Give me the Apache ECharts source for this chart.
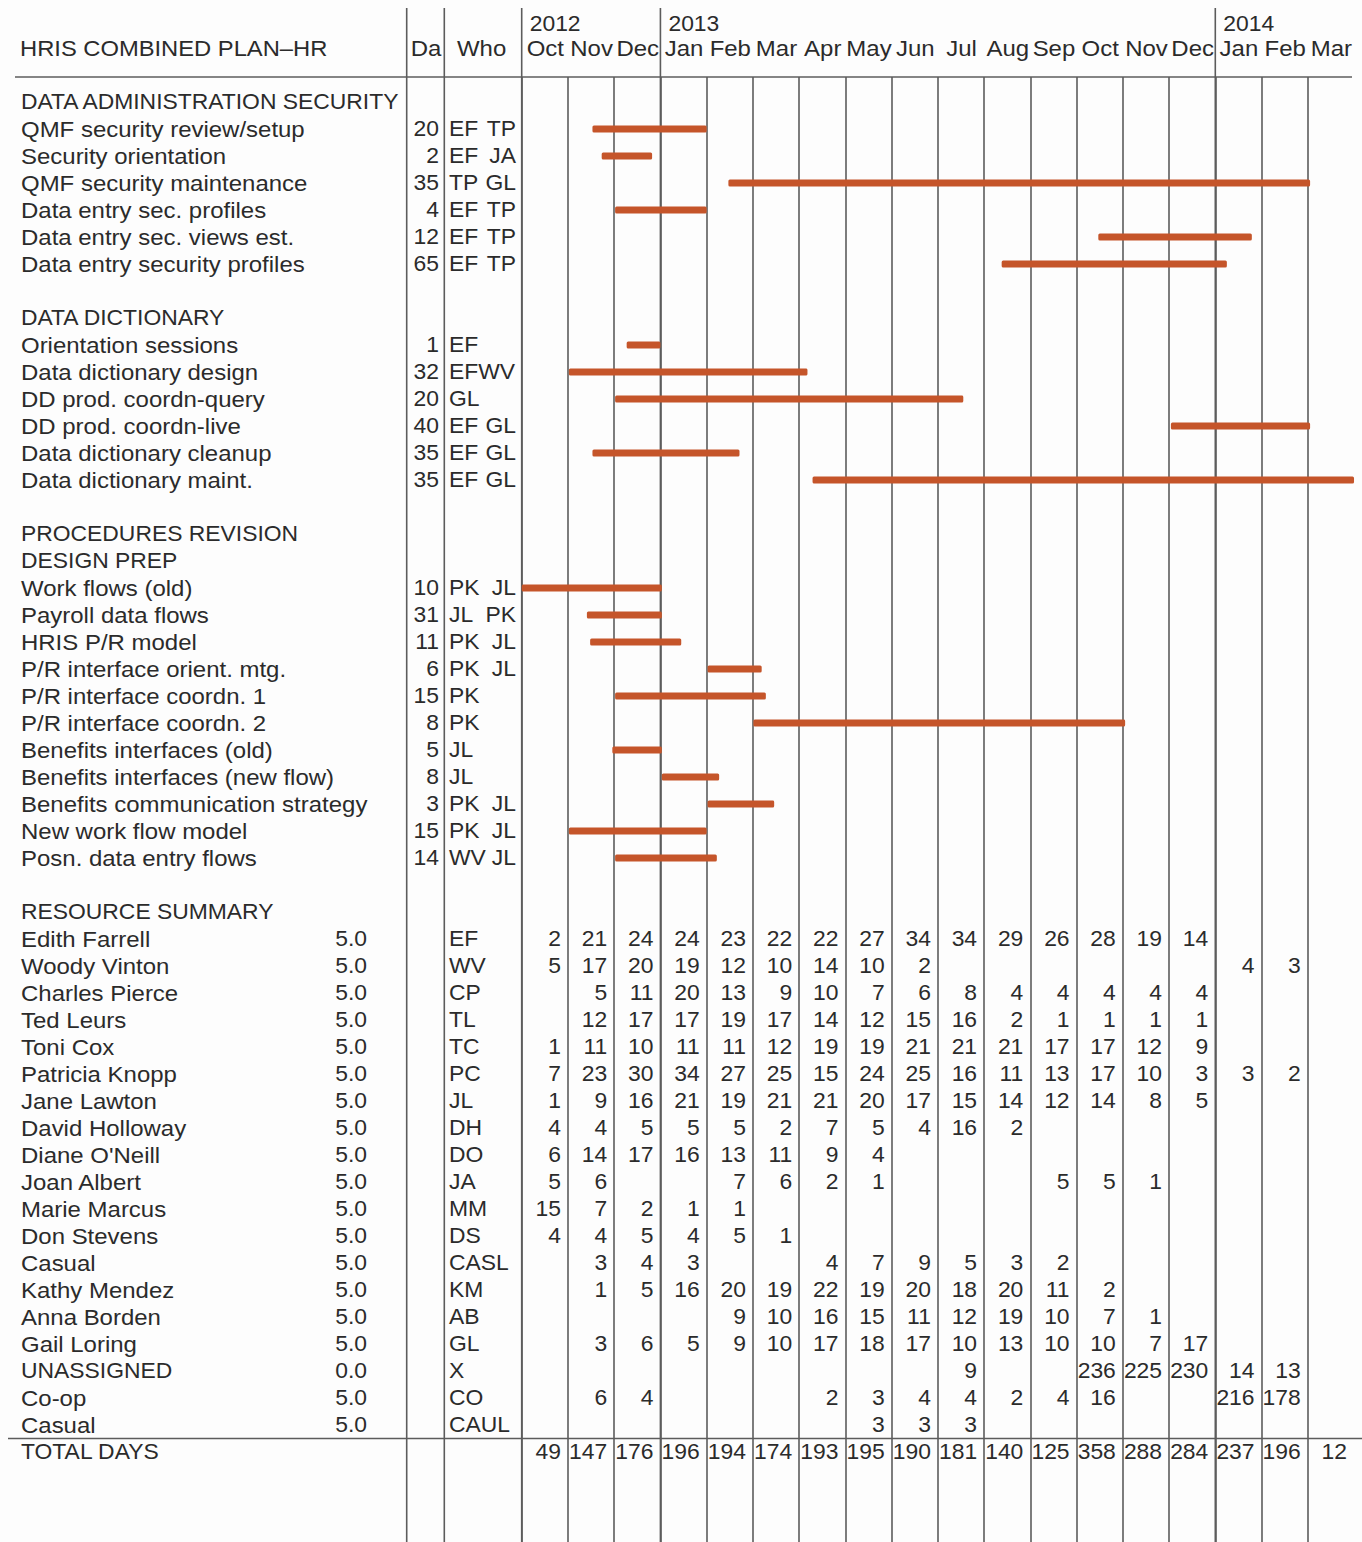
<!DOCTYPE html>
<html>
<head>
<meta charset="utf-8">
<title>HRIS Combined Plan – HR</title>
<script src="https://cdn.jsdelivr.net/npm/echarts@6/dist/echarts.min.js"></script>
<style>
  html, body { margin: 0; padding: 0; background: #fdfdfd; }
  #chart { width: 1362px; height: 1542px; }
</style>
</head>
<body>
<div id="chart"></div>
<script>
// ---- Calendar columns (Oct 2012 .. Mar 2014) ----
const monthLabels = ['Oct','Nov','Dec','Jan','Feb','Mar','Apr','May','Jun','Jul','Aug','Sep','Oct','Nov','Dec','Jan','Feb','Mar'];
const yearLabels = ['2012', '2013', '2014'];
const yearStartCol = [0, 3, 15];

// ---- Plan sections ----
const sectionTitles = [
  ['DATA ADMINISTRATION SECURITY'],
  ['DATA DICTIONARY'],
  ['PROCEDURES REVISION', 'DESIGN PREP']
];
const taskSection = [0,0,0,0,0,0, 1,1,1,1,1,1, 2,2,2,2,2,2,2,2,2,2,2];
const taskNames = [
  'QMF security review/setup', 'Security orientation', 'QMF security maintenance',
  'Data entry sec. profiles', 'Data entry sec. views est.', 'Data entry security profiles',
  'Orientation sessions', 'Data dictionary design', 'DD prod. coordn-query',
  'DD prod. coordn-live', 'Data dictionary cleanup', 'Data dictionary maint.',
  'Work flows (old)', 'Payroll data flows', 'HRIS P/R model', 'P/R interface orient. mtg.',
  'P/R interface coordn. 1', 'P/R interface coordn. 2', 'Benefits interfaces (old)',
  'Benefits interfaces (new flow)', 'Benefits communication strategy', 'New work flow model',
  'Posn. data entry flows'
];
const taskDays = [20, 2, 35, 4, 12, 65, 1, 32, 20, 40, 35, 35, 10, 31, 11, 6, 15, 8, 5, 8, 3, 15, 14];
const taskWho = [
  'EF TP', 'EF JA', 'TP GL', 'EF TP', 'EF TP', 'EF TP',
  'EF', 'EFWV', 'GL', 'EF GL', 'EF GL', 'EF GL',
  'PK JL', 'JL PK', 'PK JL', 'PK JL', 'PK', 'PK', 'JL', 'JL', 'PK JL', 'PK JL', 'WV JL'
];
// start / end in months counted from 1 Oct 2012
const taskStart = [1.53, 1.73, 4.47, 2.02, 12.47, 10.38, 2.27, 1.02, 2.02, 14.04, 1.53, 6.29,
                   0.00, 1.41, 1.48, 4.02, 2.02, 5.01, 1.96, 3.03, 4.02, 1.02, 2.02];
const taskEnd   = [4.00, 2.82, 17.05, 4.00, 15.79, 15.25, 3.00, 6.18, 9.55, 17.05, 4.71, 18.00,
                   3.03, 3.03, 3.45, 5.19, 5.28, 13.05, 3.03, 4.27, 5.46, 4.00, 4.22];

// ---- Resource summary ----
const resourceTitle = 'RESOURCE SUMMARY';
const resNames = ['Edith Farrell','Woody Vinton','Charles Pierce','Ted Leurs','Toni Cox','Patricia Knopp',
  'Jane Lawton','David Holloway',"Diane O'Neill",'Joan Albert','Marie Marcus','Don Stevens','Casual',
  'Kathy Mendez','Anna Borden','Gail Loring','UNASSIGNED','Co-op','Casual'];
const resRate = [5,5,5,5,5,5,5,5,5,5,5,5,5,5,5,5,0,5,5];
const resCode = ['EF','WV','CP','TL','TC','PC','JL','DH','DO','JA','MM','DS','CASL','KM','AB','GL','X','CO','CAUL'];
const _ = null;
const resDays = [
  [2,21,24,24,23,22,22,27,34,34,29,26,28,19,14,_,_,_],
  [5,17,20,19,12,10,14,10,2,_,_,_,_,_,_,4,3,_],
  [_,5,11,20,13,9,10,7,6,8,4,4,4,4,4,_,_,_],
  [_,12,17,17,19,17,14,12,15,16,2,1,1,1,1,_,_,_],
  [1,11,10,11,11,12,19,19,21,21,21,17,17,12,9,_,_,_],
  [7,23,30,34,27,25,15,24,25,16,11,13,17,10,3,3,2,_],
  [1,9,16,21,19,21,21,20,17,15,14,12,14,8,5,_,_,_],
  [4,4,5,5,5,2,7,5,4,16,2,_,_,_,_,_,_,_],
  [6,14,17,16,13,11,9,4,_,_,_,_,_,_,_,_,_,_],
  [5,6,_,_,7,6,2,1,_,_,_,5,5,1,_,_,_,_],
  [15,7,2,1,1,_,_,_,_,_,_,_,_,_,_,_,_,_],
  [4,4,5,4,5,1,_,_,_,_,_,_,_,_,_,_,_,_],
  [_,3,4,3,_,_,4,7,9,5,3,2,_,_,_,_,_,_],
  [_,1,5,16,20,19,22,19,20,18,20,11,2,_,_,_,_,_],
  [_,_,_,_,9,10,16,15,11,12,19,10,7,1,_,_,_,_],
  [_,3,6,5,9,10,17,18,17,10,13,10,10,7,17,_,_,_],
  [_,_,_,_,_,_,_,_,_,9,_,_,236,225,230,14,13,_],
  [_,6,4,_,_,_,2,3,4,4,2,4,16,_,_,216,178,_],
  [_,_,_,_,_,_,_,3,3,3,_,_,_,_,_,_,_,_]
];
const totalLabel = 'TOTAL DAYS';
const totalDays = [49,147,176,196,194,174,193,195,190,181,140,125,358,288,284,237,196,12];

const headTitle = 'HRIS COMBINED PLAN–HR';
const headDays = 'Da';
const headWho = 'Who';

// ---- Styling / layout ----
const TEXT = '#2b2b2b';
const RULE = '#5c5c5c';
const BAR = '#c5552a';
const FONT = '"Liberation Sans", Arial, Helvetica, sans-serif';
const FONT_SIZE = 22;
const X_NAME = 21, X_RATE = 367, X_DA_LINE = 406.7, X_DA = 439, X_WHO_LINE = 444.3,
      X_WHO = 449, X_WHO2 = 516, CELL_PAD = 7;

// ---- Row layout ----
const textItems = [];   // {month, row, text, col}
const barItems = [];    // [start, end, row]
let row = 0;
sectionTitles.forEach((titles, s) => {
  titles.forEach(t => textItems.push({ month: 0, row: row++, text: t, col: 'name' }));
  taskNames.forEach((name, i) => {
    if (taskSection[i] !== s) return;
    textItems.push({ month: 0, row, text: name, col: 'name' });
    textItems.push({ month: 0, row, text: String(taskDays[i]), col: 'da' });
    const who = taskWho[i].split(/\s+/);
    textItems.push({ month: 0, row, text: who[0], col: 'who' });
    if (who.length > 1) textItems.push({ month: 0, row, text: who[1], col: 'who2' });
    barItems.push([taskStart[i], taskEnd[i], row]);
    row++;
  });
  row++;
});
textItems.push({ month: 0, row: row++, text: resourceTitle, col: 'name' });
resNames.forEach((name, i) => {
  textItems.push({ month: 0, row, text: name, col: 'name' });
  textItems.push({ month: 0, row, text: resRate[i].toFixed(1), col: 'rate' });
  textItems.push({ month: 0, row, text: resCode[i], col: 'who' });
  resDays[i].forEach((v, m) => {
    if (v !== null) textItems.push({ month: m, row, text: String(v), col: 'cell' });
  });
  row++;
});
const totalRow = row;
textItems.push({ month: 0, row: totalRow, text: totalLabel, col: 'name' });
totalDays.forEach((v, m) => textItems.push({ month: m, row: totalRow, text: String(v), col: 'cell' }));

// header rows sit above the first body row
const HEAD_ROW = -2, YEAR_ROW = -2.89;
textItems.push({ month: 0, row: HEAD_ROW, text: headTitle, col: 'title' });
textItems.push({ month: 0, row: HEAD_ROW, text: headDays, col: 'dahead' });
textItems.push({ month: 0, row: HEAD_ROW, text: headWho, col: 'whohead' });
yearLabels.forEach((y, i) => textItems.push({ month: yearStartCol[i], row: YEAR_ROW, text: y, col: 'year' }));
monthLabels.forEach((m, i) => textItems.push({ month: i, row: HEAD_ROW, text: m, col: 'month' }));

// y extent: header rule at pixel 77, rows 27px apart starting at 102
const ROW_H = 27, GRID_TOP = 77, FIRST_ROW_Y = 102, CHART_H = 1542;
const yMin = (GRID_TOP - FIRST_ROW_Y) / ROW_H;
const yMax = (CHART_H - FIRST_ROW_Y) / ROW_H;
const MONTH_W = 46.24;
const GRID_LEFT = 521.7;

function textEl(x, y, str, align, sx) {
  return {
    type: 'text', x, y,
    scaleX: sx || (/[a-z]/.test(str) ? 1.09 : 1.04),
    style: { text: str, fill: TEXT, fontSize: FONT_SIZE, fontFamily: FONT, align, verticalAlign: 'middle' }
  };
}

function renderText(params, api) {
  const t = textItems[params.dataIndex];
  const y = api.coord([0, t.row])[1];
  switch (t.col) {
    case 'title': return textEl(X_NAME - 1, y, t.text, 'left', 1.08);
    case 'name': return textEl(X_NAME, y, t.text, 'left');
    case 'rate': return textEl(X_RATE, y, t.text, 'right');
    case 'da': return textEl(X_DA, y, t.text, 'right');
    case 'dahead': return textEl(X_DA_LINE + 4, y, t.text, 'left');
    case 'whohead': return textEl(X_WHO + 8, y, t.text, 'left');
    case 'who': return textEl(X_WHO, y, t.text, 'left');
    case 'who2': return textEl(X_WHO2, y, t.text, 'right');
    case 'cell': return textEl(api.coord([t.month + 1, t.row])[0] - CELL_PAD, y, t.text, 'right');
    case 'year': return textEl(api.coord([t.month, t.row])[0] + 8, y, t.text, 'left');
    case 'month': return textEl(api.coord([t.month + 0.5, t.row])[0] + 0.5, y, t.text, 'center');
  }
  return null;
}

function renderBar(params, api) {
  const p1 = api.coord([api.value(0), api.value(2)]);
  const p2 = api.coord([api.value(1), api.value(2)]);
  return {
    type: 'rect',
    shape: { x: p1[0], y: p1[1] - 3.5, width: p2[0] - p1[0], height: 7, r: 1.5 },
    style: { fill: BAR }
  };
}

// table frame: full-height rules for Da / Who and the year boundaries, header and total rules
function renderFrame(params, api) {
  const topY = 8, botY = CHART_H;
  const lineStyle = { stroke: RULE, lineWidth: 1.6 };
  const els = [];
  const vx = [X_DA_LINE, X_WHO_LINE].concat(yearStartCol.map(c => api.coord([c, 0])[0]));
  vx.forEach(x => els.push({ type: 'line', shape: { x1: x, y1: topY, x2: x, y2: botY }, style: lineStyle }));
  const headY = api.coord([0, yMin])[1];
  els.push({ type: 'line', shape: { x1: 15, y1: headY, x2: 1352, y2: headY }, style: lineStyle });
  const totY = api.coord([0, totalRow - 0.5])[1];
  els.push({ type: 'line', shape: { x1: 8, y1: totY, x2: 1362, y2: totY }, style: lineStyle });
  return { type: 'group', children: els };
}

const chart = echarts.init(document.getElementById('chart'), null, { renderer: 'svg' });
chart.setOption({
  animation: false,
  backgroundColor: '#fdfdfd',
  grid: { left: GRID_LEFT, width: MONTH_W * monthLabels.length, top: GRID_TOP, height: CHART_H - GRID_TOP },
  xAxis: {
    type: 'value', min: 0, max: monthLabels.length, interval: 1,
    axisLine: { show: false }, axisTick: { show: false }, axisLabel: { show: false },
    splitLine: { show: true, showMaxLine: false, lineStyle: { color: RULE, width: 1.6 } }
  },
  yAxis: {
    type: 'value', inverse: true, min: yMin, max: yMax,
    axisLine: { show: false }, axisTick: { show: false }, axisLabel: { show: false }, splitLine: { show: false }
  },
  series: [
    { type: 'custom', name: 'frame', renderItem: renderFrame, data: [[0, 0]], silent: true, z: 1 },
    { type: 'custom', name: 'tasks', renderItem: renderBar, data: barItems,
      encode: { x: [0, 1], y: 2 }, z: 3 },
    { type: 'custom', name: 'labels', renderItem: renderText,
      data: textItems.map(t => [t.month, t.row]), encode: { x: 0, y: 1 }, silent: true, z: 4 }
  ]
});
</script>
</body>
</html>
